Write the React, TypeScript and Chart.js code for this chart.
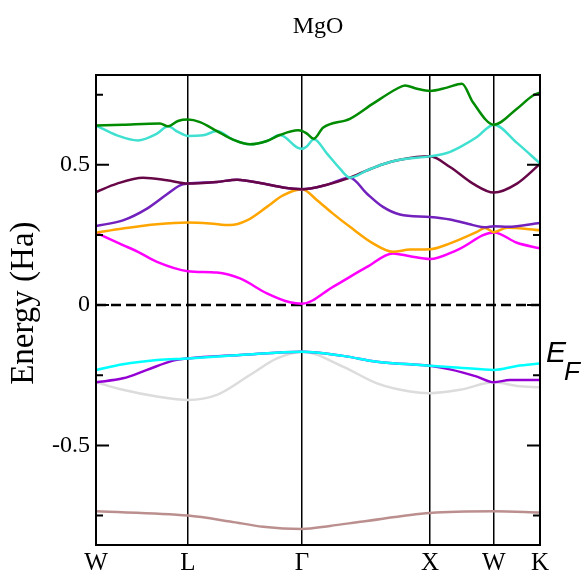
import { useEffect, useRef } from 'react';
import { Chart, registerables } from 'chart.js';

Chart.register(...registerables);

// ---- labels ----
const chartTitle = 'MgO';
const yAxisTitle = 'Energy (Ha)';
const fermiLabel = 'E';
const fermiSub = 'F';

// high-symmetry points along the FCC path (path length, 2π/a units)
const kPointLabels = ['W', 'L', 'Γ', 'X', 'W', 'K'];
const kPointPositions = [0, 0.71, 1.591, 2.579, 3.073, 3.429];

// energy axis (Ha)
const yMin = -0.855;
const yMax = 0.82;
const yMajorTicks = [-0.5, 0, 0.5];
const yMinorTicks = [-0.75, -0.25, 0.25, 0.75];

type KE = [number, number];

// bands, lowest first: [k, E]
const band01: KE[] = [
  [0, -0.735], [0.71, -0.75], [1.035, -0.771], [1.29, -0.79], [1.591, -0.798],
  [1.807, -0.787], [2.062, -0.771], [2.579, -0.741], [3.073, -0.735], [3.429, -0.739],
];
const band02: KE[] = [
  [0, -0.275], [0.208, -0.302], [0.471, -0.326], [0.71, -0.338], [0.934, -0.32],
  [1.189, -0.249], [1.398, -0.19], [1.591, -0.166], [1.907, -0.219], [2.17, -0.279],
  [2.425, -0.308], [2.579, -0.314], [2.811, -0.302], [3.073, -0.275], [3.251, -0.288],
  [3.429, -0.293],
];
const band03: KE[] = [
  [0, -0.275], [0.208, -0.261], [0.394, -0.231], [0.595, -0.198], [0.71, -0.19],
  [1.112, -0.178], [1.591, -0.166], [1.907, -0.181], [2.17, -0.202], [2.425, -0.211],
  [2.579, -0.216], [2.734, -0.229], [2.942, -0.255], [3.073, -0.275], [3.197, -0.267],
  [3.429, -0.267],
];
const band04: KE[] = [
  [0, -0.231], [0.208, -0.211], [0.471, -0.196], [0.71, -0.19], [1.112, -0.178],
  [1.591, -0.166], [1.907, -0.181], [2.17, -0.202], [2.425, -0.211], [2.579, -0.216],
  [2.811, -0.223], [3.073, -0.231], [3.251, -0.217], [3.429, -0.208],
];
const band05: KE[] = [
  [0, 0.258], [0.208, 0.214], [0.324, 0.19], [0.471, 0.154], [0.71, 0.121],
  [0.934, 0.116], [1.112, 0.095], [1.32, 0.042], [1.498, 0.01], [1.591, 0.005],
  [1.83, 0.065], [2.093, 0.136], [2.293, 0.184], [2.425, 0.174], [2.579, 0.164],
  [2.788, 0.196], [3.073, 0.259], [3.251, 0.222], [3.429, 0.202],
];
const band06: KE[] = [
  [0, 0.258], [0.208, 0.273], [0.471, 0.288], [0.71, 0.294], [0.88, 0.291],
  [1.035, 0.285], [1.166, 0.302], [1.32, 0.35], [1.444, 0.391], [1.591, 0.413],
  [1.707, 0.374], [1.83, 0.326], [1.961, 0.279], [2.139, 0.22], [2.293, 0.19],
  [2.425, 0.198], [2.579, 0.199], [2.734, 0.22], [2.942, 0.261], [3.004, 0.275],
  [3.073, 0.26], [3.174, 0.276], [3.429, 0.267],
];
const band07: KE[] = [
  [0, 0.282], [0.208, 0.302], [0.394, 0.344], [0.548, 0.395], [0.649, 0.427],
  [0.71, 0.433], [0.934, 0.439], [1.089, 0.447], [1.29, 0.433], [1.444, 0.419],
  [1.591, 0.413], [1.768, 0.427], [1.961, 0.454], [2.093, 0.397], [2.216, 0.35],
  [2.347, 0.323], [2.579, 0.314], [2.734, 0.305], [2.911, 0.285], [3.004, 0.277],
  [3.073, 0.281], [3.181, 0.279], [3.429, 0.293],
];
const band08: KE[] = [
  [0, 0.403], [0.162, 0.433], [0.363, 0.454], [0.548, 0.445], [0.71, 0.433],
  [0.934, 0.439], [1.089, 0.447], [1.29, 0.433], [1.444, 0.419], [1.591, 0.413],
  [1.768, 0.427], [1.961, 0.454], [2.093, 0.48], [2.216, 0.502], [2.347, 0.518],
  [2.579, 0.53], [2.734, 0.492], [2.911, 0.433], [3.073, 0.401], [3.251, 0.433],
  [3.429, 0.503],
];
const band09: KE[] = [
  [0, 0.64], [0.162, 0.605], [0.324, 0.587], [0.471, 0.611], [0.556, 0.637],
  [0.633, 0.617], [0.71, 0.603], [0.826, 0.605], [0.934, 0.62], [1.058, 0.59],
  [1.189, 0.573], [1.32, 0.585], [1.42, 0.606], [1.56, 0.56], [1.591, 0.557],
  [1.629, 0.566], [1.683, 0.591], [1.784, 0.54], [1.884, 0.486], [1.961, 0.454],
  [2.093, 0.48], [2.216, 0.502], [2.347, 0.518], [2.579, 0.53], [2.71, 0.542],
  [2.811, 0.563], [2.942, 0.599], [3.073, 0.643], [3.251, 0.578], [3.429, 0.505],
];
const band10: KE[] = [
  [0, 0.64], [0.208, 0.643], [0.494, 0.647], [0.556, 0.637], [0.633, 0.656],
  [0.71, 0.661], [0.803, 0.652], [0.934, 0.62], [1.058, 0.59], [1.189, 0.573],
  [1.32, 0.585], [1.42, 0.606], [1.56, 0.623], [1.591, 0.621], [1.629, 0.611],
  [1.683, 0.593], [1.753, 0.632], [1.961, 0.664], [2.139, 0.718], [2.324, 0.771],
  [2.386, 0.783], [2.479, 0.771], [2.579, 0.763], [2.71, 0.775], [2.826, 0.789],
  [2.911, 0.723], [3.073, 0.643], [3.251, 0.7], [3.375, 0.747], [3.429, 0.757],
];

// Fermi level reference line
const fermiLine: KE[] = [[0, 0], [3.429, 0]];

const bands = [band01, band02, band03, band04, band05, band06, band07, band08, band09, band10];
const bandColors = [
  'rgb(188,143,143)', // brown
  'rgb(220,220,220)', // grey
  'rgb(148,0,211)', // violet
  'rgb(0,255,255)', // cyan
  'rgb(255,0,255)', // magenta
  'rgb(255,165,0)', // orange
  'rgb(114,33,188)', // indigo
  'rgb(103,7,72)', // maroon
  'rgb(64,224,208)', // turquoise
  'rgb(0,139,0)', // green4
];

const SERIF = '"Liberation Serif", "Times New Roman", serif';
const SANS = '"Liberation Sans", Arial, sans-serif';

const toXY = (pts: KE[]) => pts.map(([x, y]) => ({ x, y }));

// frame, inward ticks, titles and the E_F marker
const decorPlugin = {
  id: 'bandDecor',
  afterDatasetsDraw(chart: any) {
    const { ctx, chartArea: a, scales } = chart;
    const y = scales.y;
    ctx.save();
    ctx.strokeStyle = '#000';
    ctx.lineWidth = 2;
    ctx.strokeRect(a.left, a.top, a.right - a.left, a.bottom - a.top);

    ctx.beginPath();
    const tick = (v: number, len: number) => {
      const py = y.getPixelForValue(v);
      ctx.moveTo(a.left, py);
      ctx.lineTo(a.left + len, py);
      ctx.moveTo(a.right, py);
      ctx.lineTo(a.right - len, py);
    };
    yMajorTicks.forEach((v) => tick(v, 13));
    yMinorTicks.forEach((v) => tick(v, 7));
    ctx.stroke();

    ctx.fillStyle = '#000';
    ctx.textBaseline = 'alphabetic';
    ctx.textAlign = 'center';
    ctx.font = `24px ${SERIF}`;
    ctx.fillText(chartTitle, (a.left + a.right) / 2, 33);

    // vertical axis title, baseline toward the axis
    ctx.save();
    ctx.translate(33, y.getPixelForValue(0.007));
    ctx.rotate(-Math.PI / 2);
    ctx.font = `33px ${SERIF}`;
    ctx.fillText(yAxisTitle, 0, 0);
    ctx.restore();

    ctx.textAlign = 'left';
    ctx.font = `italic 30px ${SANS}`;
    ctx.fillText(fermiLabel, a.right + 6, 362);
    ctx.font = `italic 26px ${SANS}`;
    ctx.fillText(fermiSub, a.right + 24, 380);
    ctx.restore();
  },
};

export default function App() {
  const canvasRef = useRef<HTMLCanvasElement | null>(null);

  useEffect(() => {
    const canvas = canvasRef.current;
    if (!canvas) return;

    const bandSets = bands.map((b, i) => ({
      data: toXY(b),
      borderColor: bandColors[i],
      borderWidth: 2.5,
      pointRadius: 0,
      fill: false,
      cubicInterpolationMode: 'monotone' as const,
    }));
    // higher bands sit on top
    const datasets: any[] = bandSets.reverse();
    datasets.push({
      data: toXY(fermiLine),
      borderColor: '#000',
      borderWidth: 2.5,
      borderDash: [10, 5],
      pointRadius: 0,
      fill: false,
      tension: 0,
    });

    const chart = new Chart(canvas, {
      type: 'line',
      data: { datasets },
      plugins: [decorPlugin],
      options: {
        animation: false,
        responsive: false,
        maintainAspectRatio: false,
        events: [],
        layout: { padding: { left: 0, right: 43, top: 75, bottom: 0 } },
        plugins: {
          legend: { display: false },
          tooltip: { enabled: false },
          title: { display: false },
        },
        scales: {
          x: {
            type: 'linear',
            min: kPointPositions[0],
            max: kPointPositions[kPointPositions.length - 1],
            afterBuildTicks: (s: any) => {
              s.ticks = kPointPositions.map((value) => ({ value }));
            },
            afterFit: (s: any) => {
              s.height = 29;
            },
            ticks: {
              autoSkip: false,
              maxRotation: 0,
              color: '#000',
              padding: 3,
              font: { family: SERIF, size: 25 },
              callback: (_v: any, i: number) => kPointLabels[i],
            },
            grid: { color: '#000', lineWidth: 1.5, drawTicks: false },
            border: { display: false },
          },
          y: {
            type: 'linear',
            min: yMin,
            max: yMax,
            afterBuildTicks: (s: any) => {
              s.ticks = yMajorTicks.map((value) => ({ value }));
            },
            afterFit: (s: any) => {
              s.width = 96;
            },
            ticks: {
              color: '#000',
              padding: 6,
              font: { family: SERIF, size: 24 },
              callback: (v: any) => String(v),
            },
            grid: { display: false, drawTicks: false },
            border: { display: false },
          },
        },
      },
    });

    return () => chart.destroy();
  }, []);

  return (
    <div style={{ position: 'absolute', left: 0, top: 0, width: 583, height: 574, background: '#fff' }}>
      <canvas ref={canvasRef} width={583} height={574} style={{ display: 'block' }} />
    </div>
  );
}
